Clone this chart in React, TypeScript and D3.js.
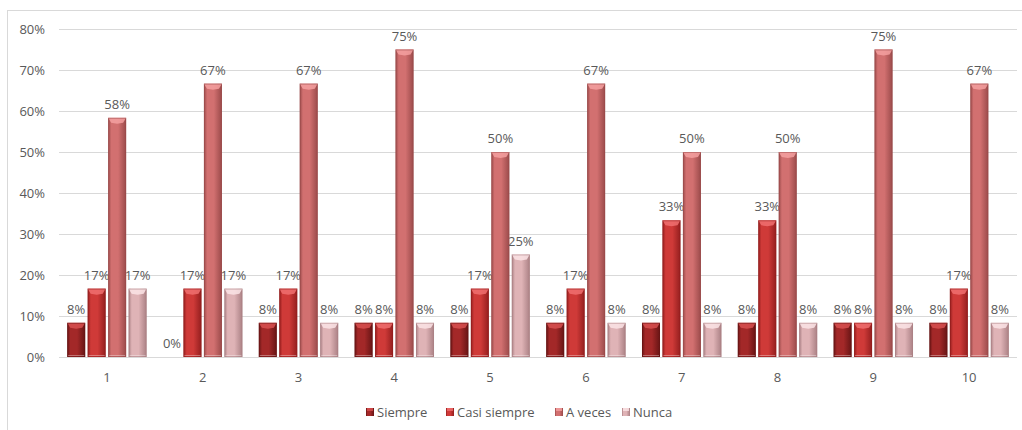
import * as d3 from 'd3'

const categories = ['1', '2', '3', '4', '5', '6', '7', '8', '9', '10']
const seriesNames = ['Siempre', 'Casi siempre', 'A veces', 'Nunca']
const siempre = [0.0833, 0, 0.0833, 0.0833, 0.0833, 0.0833, 0.0833, 0.0833, 0.0833, 0.0833]
const casiSiempre = [0.1667, 0.1667, 0.1667, 0.0833, 0.1667, 0.1667, 0.3333, 0.3333, 0.0833, 0.1667]
const aVeces = [0.5833, 0.6667, 0.6667, 0.75, 0.5, 0.6667, 0.5, 0.5, 0.75, 0.6667]
const nunca = [0.1667, 0.1667, 0.0833, 0.0833, 0.25, 0.0833, 0.0833, 0.0833, 0.0833, 0.0833]
const yTicks = [0, 0.1, 0.2, 0.3, 0.4, 0.5, 0.6, 0.7, 0.8]

const seriesValues = [siempre, casiSiempre, aVeces, nunca]

// edge, center, cap colours per series
const palette = [
  { edge: '#661414', mid: '#a32828', cap: '#d85050' },
  { edge: '#931e1e', mid: '#cf3a38', cap: '#f07070' },
  { edge: '#9a4a4a', mid: '#d27070', cap: '#f4a0a0' },
  { edge: '#aa8084', mid: '#dfb3b6', cap: '#fbe4e6' },
]

const W = 1022
const H = 430
const margin = { left: 59, right: 5, top: 29, bottom: 73 }
const font = '"Open Sans", "Liberation Sans", sans-serif'
const textColor = '#595959'

export default function App() {
  const x = d3
    .scaleBand<string>()
    .domain(categories)
    .range([margin.left, W - margin.right])
  const inner = d3
    .scaleBand<string>()
    .domain(seriesNames)
    .range([0, x.bandwidth()])
    .paddingInner(0.12)
    .paddingOuter(0.4)
  const y = d3
    .scaleLinear()
    .domain([0, 0.8])
    .range([H - margin.bottom, margin.top])

  const fmt = d3.format('.0%')
  const bw = inner.bandwidth()

  const legendX = [366, 446, 555, 622]

  return (
    <div>
      <style>{'body{margin:0}'}</style>
      <svg width={W} height={H} style={{ display: 'block', background: '#fff' }}>
        <defs>
          {palette.map((p, i) => (
            <linearGradient key={i} id={`g${i}`} x1="0" x2="1" y1="0" y2="0">
              <stop offset="0" stopColor={p.edge} />
              <stop offset="0.18" stopColor={p.mid} />
              <stop offset="0.55" stopColor={p.mid} />
              <stop offset="1" stopColor={p.edge} />
            </linearGradient>
          ))}
        </defs>
        <rect x={7.5} y={10.5} width={W + 20} height={H + 20} fill="none" stroke="#d9d9d9" />
        {yTicks.map((t) => (
          <g key={t}>
            <line
              x1={margin.left}
              x2={W - margin.right}
              y1={Math.round(y(t)) + 0.5}
              y2={Math.round(y(t)) + 0.5}
              stroke="#d9d9d9"
            />
            <text
              x={45}
              y={y(t)}
              dy="0.35em"
              textAnchor="end"
              fontFamily={font}
              fontSize={13}
              fill={textColor}
            >
              {fmt(t)}
            </text>
          </g>
        ))}
        {categories.map((c, ci) => (
          <g key={c} transform={`translate(${x(c)},0)`}>
            {seriesValues.map((vals, si) => {
              const v = vals[ci]
              const bx = inner(seriesNames[si])!
              const top = y(v)
              const base = y(0)
              const h = base - top
              const cap = Math.min(5, h)
              return (
                <g key={si}>
                  {h > 0 && (
                    <>
                      <rect x={bx} y={top} width={bw} height={h} fill={`url(#g${si})`} />
                      <polygon
                        points={`${bx},${top} ${bx + bw},${top} ${bx + bw - 3},${top + cap} ${bx + bw / 2},${top + cap + 1} ${bx + 3},${top + cap}`}
                        fill={palette[si].cap}
                        opacity={0.85}
                      />
                      <rect
                        x={bx + 0.5}
                        y={top + 0.5}
                        width={bw - 1}
                        height={h - 1}
                        fill="none"
                        stroke={palette[si].edge}
                        strokeOpacity={0.5}
                      />
                      <line
                        x1={bx + 1}
                        x2={bx + bw - 1}
                        y1={base - 1.5}
                        y2={base - 1.5}
                        stroke="#fff"
                        strokeOpacity={0.35}
                      />
                    </>
                  )}
                  <text
                    x={bx + bw / 2}
                    y={top - 9}
                    textAnchor="middle"
                    fontFamily={font}
                    fontSize={13}
                    fill={textColor}
                  >
                    {fmt(v)}
                  </text>
                </g>
              )
            })}
            <text
              x={x.bandwidth() / 2}
              y={H - margin.bottom + 25}
              textAnchor="middle"
              fontFamily={font}
              fontSize={13}
              fill={textColor}
            >
              {c}
            </text>
          </g>
        ))}
        {seriesNames.map((s, i) => (
          <g key={s} transform={`translate(${legendX[i]},412)`}>
            <rect x={0} y={-4} width={8} height={8} fill={`url(#g${i})`} />
            <rect x={1} y={-4} width={6} height={3} fill={palette[i].cap} opacity={0.8} />
            <text x={11} y={0} dy="0.35em" fontFamily={font} fontSize={13} fill={textColor}>
              {s}
            </text>
          </g>
        ))}
      </svg>
    </div>
  )
}
